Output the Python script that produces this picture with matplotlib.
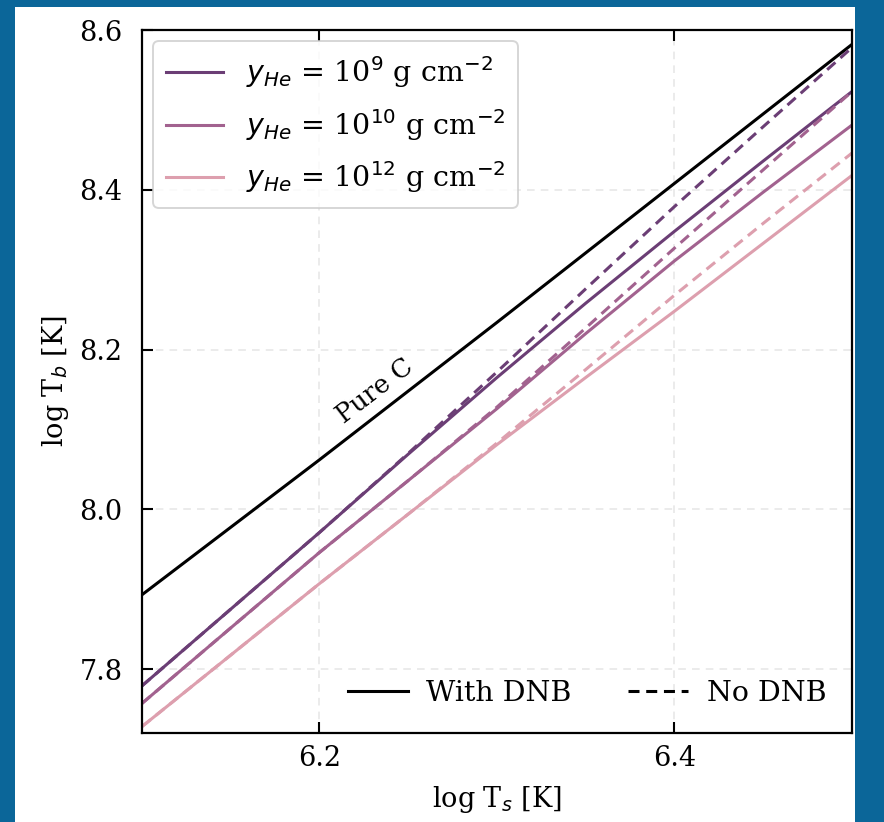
import matplotlib
matplotlib.use("Agg")
import matplotlib.pyplot as plt
from matplotlib.lines import Line2D
from matplotlib.patches import Rectangle

plt.rcParams['font.family'] = ['DejaVu Serif']
plt.rcParams['mathtext.fontset'] = 'dejavusans'

# log T_s grid
log_ts = [6.1, 6.2, 6.25, 6.3, 6.35, 6.4, 6.45, 6.5]

# pure carbon envelope
pure_c_ts = [6.1, 6.2, 6.3, 6.4, 6.5]
pure_c_tb = [7.893, 8.062, 8.234, 8.408, 8.582]

# helium column depths and their curves (with / without DNB)
he_labels = [r'$y_{He}$ = 10$^{9}$ g cm$^{-2}$',
             r'$y_{He}$ = 10$^{10}$ g cm$^{-2}$',
             r'$y_{He}$ = 10$^{12}$ g cm$^{-2}$']
tb_dnb = [
    [7.779, 7.971, 8.069, 8.165, 8.258, 8.348, 8.436, 8.523],
    [7.757, 7.946, 8.036, 8.126, 8.220, 8.311, 8.397, 8.481],
    [7.728, 7.907, 7.994, 8.081, 8.165, 8.248, 8.333, 8.418],
]
tb_nodnb = [
    [7.779, 7.971, 8.070, 8.172, 8.276, 8.379, 8.479, 8.578],
    [7.757, 7.946, 8.036, 8.128, 8.227, 8.327, 8.425, 8.523],
    [7.728, 7.907, 7.994, 8.083, 8.175, 8.268, 8.358, 8.446],
]
colors = ['#6b3e75', '#a2628f', '#dd9fae']

FS = 19.5
LFS = 20.5
LW = 2.2
dash = (0, (3.6, 2.2))

fig = plt.figure(figsize=(8.84, 8.22), dpi=100)
fig.patch.set_facecolor('#0b6699')
fig.patches.append(Rectangle((15 / 884, 0), 840 / 884, 815 / 822,
                             transform=fig.transFigure, facecolor='white',
                             edgecolor='none', zorder=-1))
ax = fig.add_axes([0.1606, 0.1083, 0.8032, 0.8552])

ax.plot(pure_c_ts, pure_c_tb, color='black', lw=LW)
for i in range(3):
    ax.plot(log_ts, tb_dnb[i], color=colors[i], lw=LW, label=he_labels[i])
    ax.plot(log_ts, tb_nodnb[i], color=colors[i], lw=LW, ls=dash)

ax.text(6.231, 8.148, 'Pure C', rotation=37.5, fontsize=FS - 1,
        ha='center', va='center')

ax.set_xlim(6.1, 6.5)
ax.set_ylim(7.72, 8.6)
ax.set_xticks([6.2, 6.4])
ax.set_yticks([7.8, 8.0, 8.2, 8.4, 8.6])
ax.tick_params(direction='in', top=True, right=False, length=8, width=1.5,
               labelsize=FS)
ax.tick_params(axis='y', pad=14)
ax.tick_params(axis='x', pad=9)
for s in ax.spines.values():
    s.set_linewidth(1.6)
ax.grid(True, ls=(0, (5, 4)), color='#e6e6e6', lw=1.1)

ax.set_xlabel(r'log T$_s$ [K]', fontsize=FS, labelpad=8)
ax.set_ylabel(r'log T$_b$ [K]', fontsize=FS, labelpad=6)

leg1 = ax.legend(loc='upper left', fontsize=LFS, frameon=True,
                 handlelength=2.0, borderpad=0.45, labelspacing=0.58,
                 borderaxespad=0.4)
leg1.get_frame().set_edgecolor('#cccccc')
leg1.get_frame().set_linewidth(1.4)
ax.add_artist(leg1)

style_handles = [Line2D([], [], color='black', lw=LW),
                 Line2D([], [], color='black', lw=LW, ls=dash)]
ax.legend(style_handles, ['With DNB', 'No DNB'], loc='lower right', ncol=2,
          frameon=False, fontsize=LFS, handlelength=2.1, handletextpad=0.65,
          columnspacing=2.0)

fig.savefig('out.png', dpi=100, facecolor=fig.get_facecolor())
